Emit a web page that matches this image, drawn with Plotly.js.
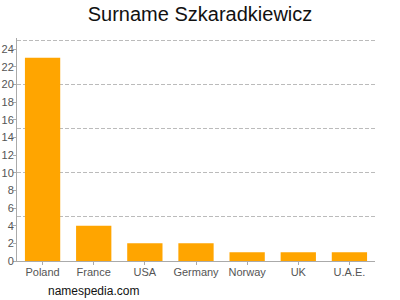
<!DOCTYPE html>
<html><head><meta charset="utf-8">
<script src="https://cdn.plot.ly/plotly-3.0.1.min.js"></script>
<style>html,body{margin:0;padding:0;background:#fff}#c{width:400px;height:300px}</style>
</head><body><div id="c"></div>
<script>
const countries = ["Poland","France","USA","Germany","Norway","UK","U.A.E."];
const counts = [23,4,2,2,1,1,1];
const yTicks = [0,2,4,6,8,10,12,14,16,18,20,22,24];

const data = [
  {type:'bar', x:countries, y:counts, marker:{color:'#ffa500'}, hoverinfo:'none'},
  {type:'bar', x:[], y:[], yaxis:'y2', hoverinfo:'none', showlegend:false}
];
const layout = {
  width:400, height:300,
  margin:{l:17, r:25, t:38, b:39},
  showlegend:false,
  bargap:0.31,
  paper_bgcolor:'#fff', plot_bgcolor:'#fff',
  font:{family:'Liberation Sans, Arial, sans-serif', color:'#555', size:11},
  title:{text:'Surname Szkaradkiewicz', x:0.5, xanchor:'center', y:0.955, yanchor:'middle',
         font:{size:20, color:'#111', family:'Liberation Sans, Arial, sans-serif'}},
  xaxis:{showline:true, linecolor:'#aaa', linewidth:1, ticks:'outside', ticklen:3, tickcolor:'#aaa',
         tickfont:{size:11, color:'#555'}, ticklabelstandoff:-2, fixedrange:true},
  yaxis:{range:[0,25.25], tickmode:'array', tickvals:yTicks, showgrid:false, zeroline:false,
         showline:true, linecolor:'#aaa', linewidth:1, ticks:'outside', ticklen:3, tickcolor:'#aaa',
         tickfont:{size:11, color:'#555'}, ticklabelstandoff:-3, fixedrange:true},
  yaxis2:{overlaying:'y', range:[0,25.25], tickmode:'linear', tick0:0, dtick:5, showgrid:true,
          gridcolor:'#bbb', griddash:'4px,2px', gridwidth:1, showticklabels:false, ticks:'',
          zeroline:false, showline:false, side:'left', fixedrange:true},
  annotations:[{text:'namespedia.com', xref:'paper', yref:'paper', x:0.08, y:-0.095,
                xanchor:'left', yanchor:'top', showarrow:false,
                font:{size:12, color:'#111'}}]
};
Plotly.newPlot('c', data, layout, {displayModeBar:false, staticPlot:true});
</script></body></html>
